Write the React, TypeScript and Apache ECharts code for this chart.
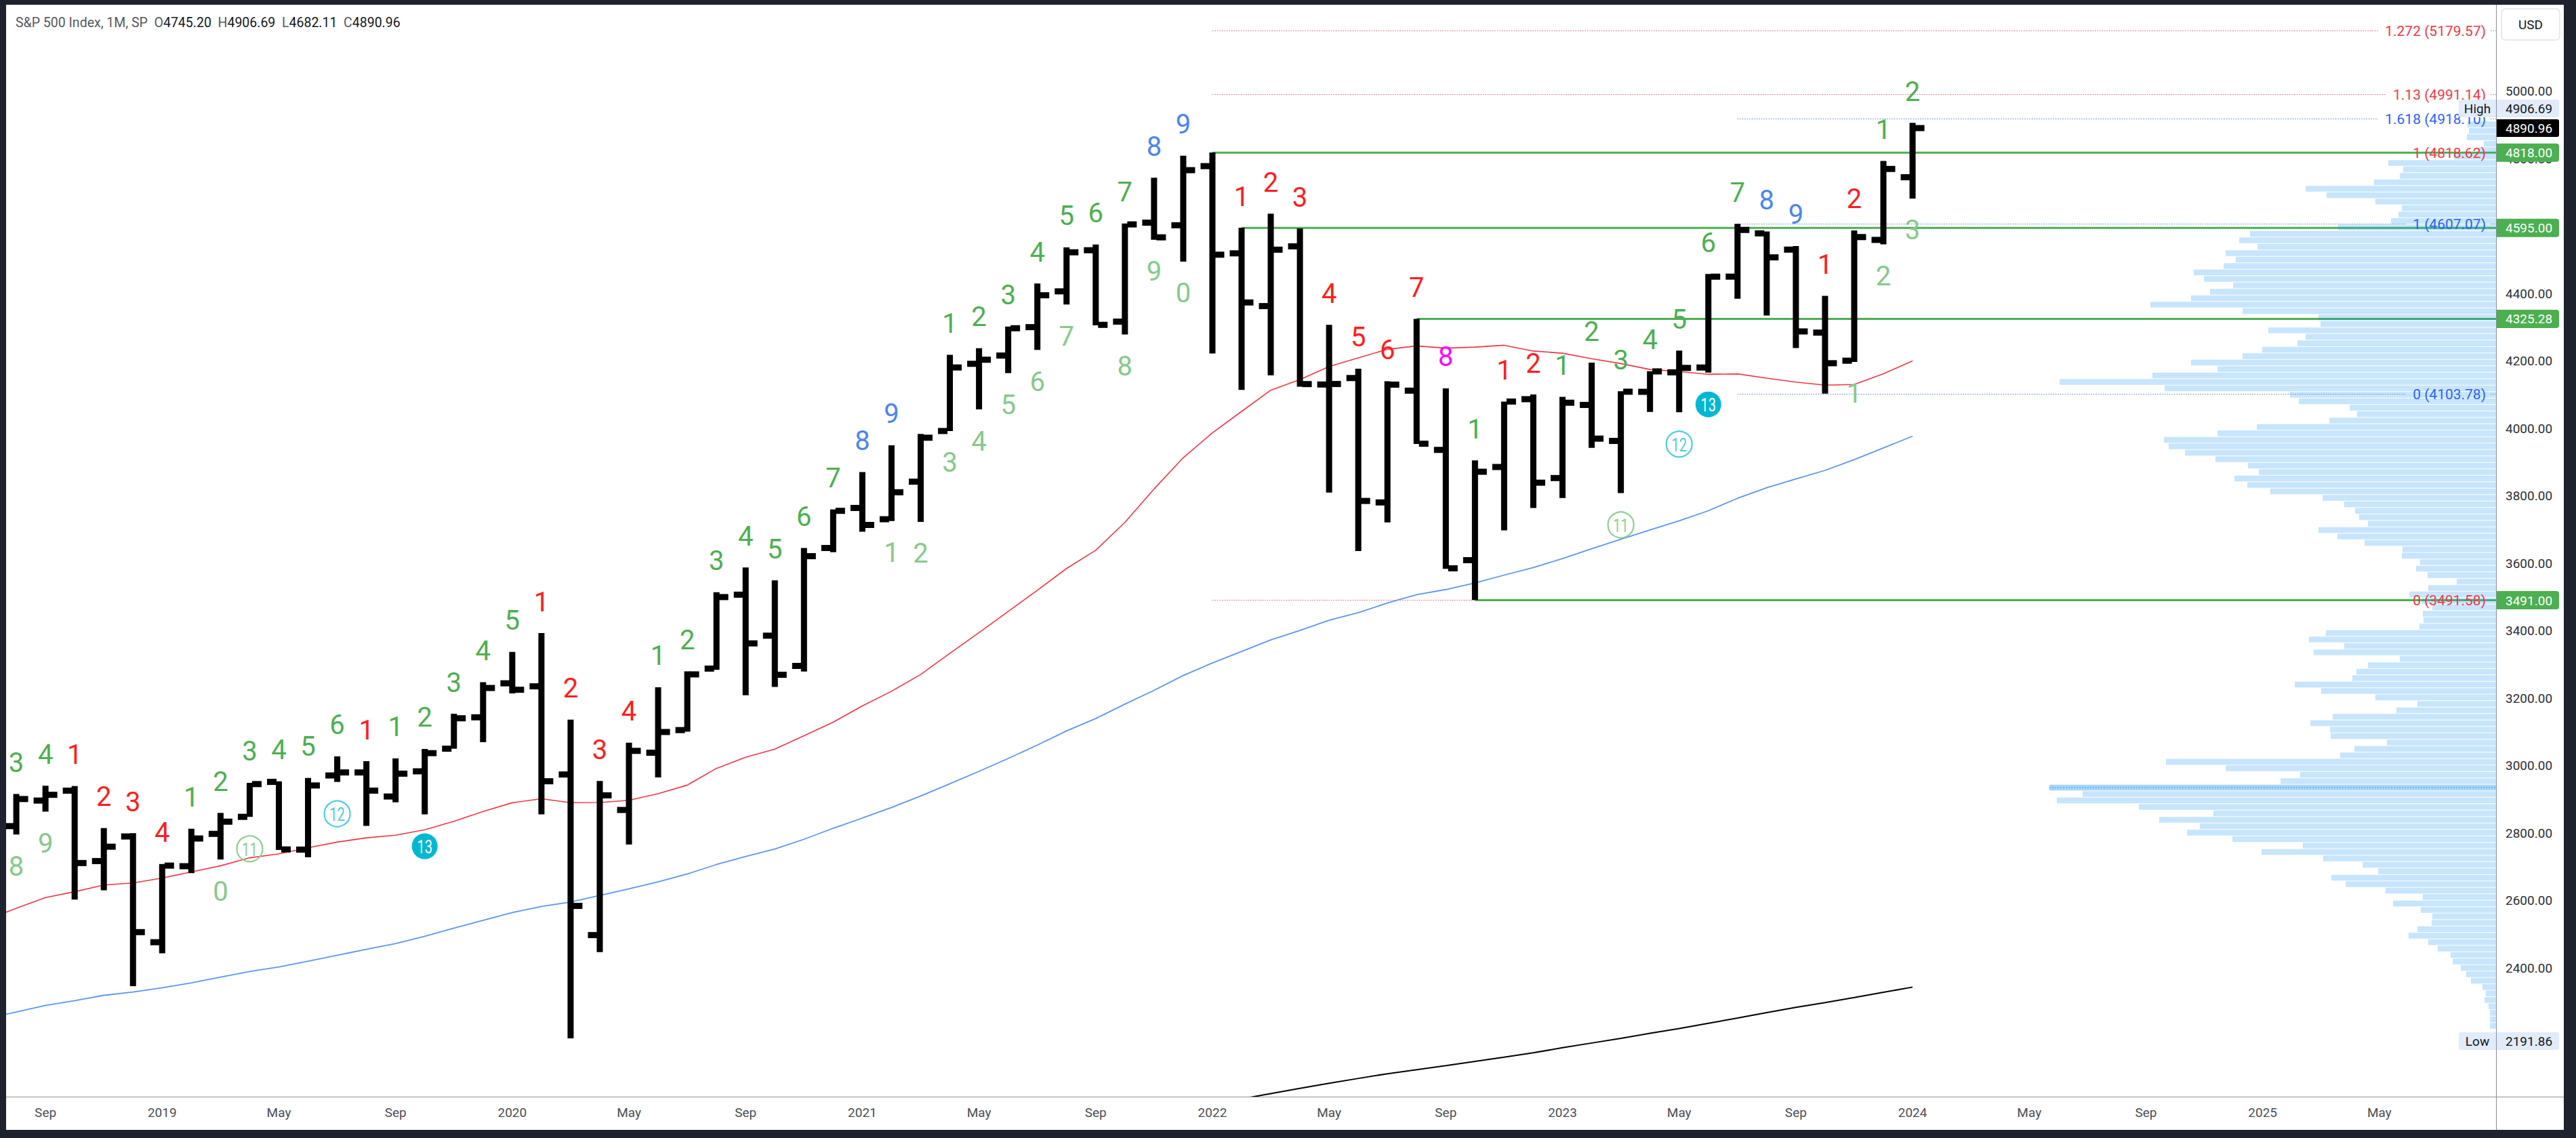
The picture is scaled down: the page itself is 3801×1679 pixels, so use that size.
import React, { useEffect, useRef } from 'react';
import * as echarts from 'echarts';

const FONT = 'Roboto, "Noto Sans", "DejaVu Sans", sans-serif';

// ---- time base: first bar is Aug 2018 (index 0) ----
const START_YEAR = 2018;
const START_MONTH = 7; // 0-based, August
const MONTH_NAMES = ['Jan', 'Feb', 'Mar', 'Apr', 'May', 'Jun', 'Jul', 'Aug', 'Sep', 'Oct', 'Nov', 'Dec'];

// ---- monthly OHLC, Aug 2018 .. Jan 2024 ----
const opens = [
  2821.17, 2896.96, 2926.29, 2717.58, 2790.5,
  2476.96, 2702.32, 2798.22, 2848.63, 2952.33, 2751.53, 2971.41, 2980.32, 2909.01, 2983.69, 3050.72, 3143.85,
  3244.67, 3235.66, 2974.28, 2498.08, 2869.09, 3038.78, 3105.92, 3288.26, 3507.44, 3385.87, 3296.2, 3645.87,
  3764.61, 3731.17, 3842.51, 3992.78, 4191.98, 4216.52, 4300.73, 4406.86, 4528.8, 4317.16, 4610.62, 4602.82,
  4778.14, 4519.57, 4363.14, 4540.32, 4130.61, 4149.78, 3781.0, 4112.38, 3936.73, 3609.78, 3886.04, 4087.14,
  3853.29, 4070.07, 3963.34, 4108.94, 4166.79, 4181.03, 4450.48, 4578.83, 4530.6, 4284.52, 4201.27, 4559.43,
  4745.2,
];
const highs = [
  2916.5, 2940.91, 2939.86, 2815.15, 2800.18,
  2708.95, 2813.49, 2860.31, 2949.52, 2954.13, 2964.15, 3027.98, 3013.59, 3021.99, 3050.1, 3154.26, 3247.93,
  3337.77, 3393.52, 3136.72, 2954.86, 3068.67, 3233.13, 3279.99, 3514.77, 3588.11, 3549.85, 3645.99, 3760.2,
  3870.9, 3950.43, 3983.87, 4218.78, 4238.04, 4302.43, 4429.97, 4537.36, 4545.85, 4608.08, 4743.83, 4808.93,
  4818.62, 4595.31, 4637.3, 4593.45, 4307.66, 4177.51, 4140.15, 4325.28, 4119.28, 3905.42, 4080.11, 4100.96,
  4094.21, 4195.44, 4110.75, 4170.06, 4231.1, 4458.48, 4607.07, 4584.62, 4541.25, 4393.57, 4587.64, 4793.3,
  4906.69,
];
const lows = [
  2796.34, 2864.12, 2603.54, 2631.09, 2346.58,
  2443.96, 2681.83, 2722.27, 2848.63, 2750.52, 2728.81, 2952.22, 2822.12, 2891.85, 2855.94, 3050.72, 3070.33,
  3214.64, 2855.84, 2191.86, 2447.49, 2766.64, 2965.66, 3101.17, 3284.53, 3209.45, 3233.94, 3279.74, 3633.4,
  3694.12, 3725.62, 3723.34, 3992.78, 4056.88, 4164.4, 4233.13, 4367.73, 4305.91, 4278.94, 4560.0, 4495.12,
  4222.62, 4114.65, 4157.87, 4124.28, 3810.32, 3636.87, 3721.56, 3954.53, 3584.13, 3491.58, 3698.15, 3764.49,
  3794.33, 3943.08, 3808.86, 4049.35, 4048.28, 4166.15, 4385.05, 4335.31, 4238.63, 4103.78, 4197.74, 4546.5,
  4682.11,
];
const closes = [
  2901.52, 2913.98, 2711.74, 2760.17, 2506.85,
  2704.1, 2784.49, 2834.4, 2945.83, 2752.06, 2941.76, 2980.38, 2926.46, 2976.74, 3037.56, 3140.98, 3230.78,
  3225.52, 2954.22, 2584.59, 2912.43, 3044.31, 3100.29, 3271.12, 3500.31, 3363.0, 3269.96, 3621.63, 3756.07,
  3714.24, 3811.15, 3972.89, 4181.17, 4204.11, 4297.5, 4395.26, 4522.68, 4307.54, 4605.38, 4567.0, 4766.18,
  4515.55, 4373.94, 4530.41, 4131.93, 4132.15, 3785.38, 4130.29, 3955.0, 3585.62, 3871.98, 4080.11, 3839.5,
  4076.6, 3970.15, 4109.31, 4169.48, 4179.83, 4450.38, 4588.96, 4507.66, 4288.05, 4193.8, 4567.8, 4769.83,
  4890.96,
];
// monthly closes before the first visible bar (Jun 2014 .. Jul 2018), feeding the moving averages
const historyCloses = [
  1960.23, 1930.67, 2003.37, 1972.29, 2018.05, 2067.56, 2058.9,
  1994.99, 2104.5, 2067.89, 2085.51, 2107.39, 2063.11, 2103.84, 1972.18, 1920.03, 2079.36, 2080.41, 2043.94,
  1940.24, 1932.23, 2059.74, 2065.3, 2096.95, 2098.86, 2173.6, 2170.95, 2168.27, 2126.15, 2198.81, 2238.83,
  2278.87, 2363.64, 2362.72, 2384.2, 2411.8, 2423.41, 2470.3, 2471.65, 2519.36, 2575.26, 2647.58, 2673.61,
  2823.81, 2713.83, 2640.87, 2648.05, 2705.27, 2718.37, 2816.29,
];
// long (200-month) average, bar index 41 .. 65
const SMA200_FIRST_INDEX = 41;
const sma200Values = [
  1997, 2012.5, 2028, 2043.5, 2058.8, 2073, 2087, 2099, 2111, 2123.6, 2136, 2149, 2164,
  2178, 2192, 2206.7, 2221, 2236.6, 2252, 2268.4, 2284, 2298, 2313, 2328.4, 2343.8,
];

// ---- TD sequential labels ----
const setupLabels: [number, string, string][] = [
  [0, '3', 'g'], [1, '4', 'g'], [2, '1', 'r'], [3, '2', 'r'], [4, '3', 'r'], [5, '4', 'r'],
  [6, '1', 'g'], [7, '2', 'g'], [8, '3', 'g'], [9, '4', 'g'], [10, '5', 'g'], [11, '6', 'g'],
  [12, '1', 'r'], [13, '1', 'g'], [14, '2', 'g'], [15, '3', 'g'], [16, '4', 'g'], [17, '5', 'g'],
  [18, '1', 'r'], [19, '2', 'r'], [20, '3', 'r'], [21, '4', 'r'],
  [22, '1', 'g'], [23, '2', 'g'], [24, '3', 'g'], [25, '4', 'g'], [26, '5', 'g'], [27, '6', 'g'], [28, '7', 'g'],
  [29, '8', 'b'], [30, '9', 'b'],
  [32, '1', 'g'], [33, '2', 'g'], [34, '3', 'g'], [35, '4', 'g'], [36, '5', 'g'], [37, '6', 'g'], [38, '7', 'g'],
  [39, '8', 'b'], [40, '9', 'b'],
  [42, '1', 'r'], [43, '2', 'r'], [44, '3', 'r'], [45, '4', 'r'], [46, '5', 'r'], [47, '6', 'r'], [48, '7', 'r'],
  [49, '8', 'm'], [50, '1', 'g'], [51, '1', 'r'], [52, '2', 'r'],
  [53, '1', 'g'], [54, '2', 'g'], [55, '3', 'g'], [56, '4', 'g'], [57, '5', 'g'], [58, '6', 'g'], [59, '7', 'g'],
  [60, '8', 'b'], [61, '9', 'b'], [62, '1', 'r'], [63, '2', 'r'], [64, '1', 'g'], [65, '2', 'g'],
];
const countdownLabels: [number, string, string][] = [
  [0, '8', 'lg'], [1, '9', 'lg'], [7, '0', 'lg'], [8, '11', 'c11'], [11, '12', 'c12'], [14, '13', 'c13'],
  [30, '1', 'lg'], [31, '2', 'lg'], [32, '3', 'lg'], [33, '4', 'lg'], [34, '5', 'lg'], [35, '6', 'lg'],
  [36, '7', 'lg'], [38, '8', 'lg'], [39, '9', 'lg'], [40, '0', 'lg'],
  [55, '11', 'c11'], [57, '12', 'c12'], [58, '13', 'c13'],
  [63, '1', 'lg'], [64, '2', 'lg'], [65, '3', 'lg'],
];

// ---- horizontal support / resistance levels ----
const levelPrices = [4818.0, 4595.0, 4325.28, 3491.0];
const levelStartIndex = [41, 42, 48, 50];

// ---- fibonacci extensions ----
const redFibRatios = [1.272, 1.13, 1, 0];
const redFibHighIndex = 41;
const redFibLowIndex = 50;
const blueFibRatios = [1.618, 1, 0];
const blueFibHighIndex = 59;
const blueFibLowIndex = 62;

// ---- visible range volume profile (rows from top, relative volume) ----
const VP_TOP = 4910.4;
const VP_ROW = 19.09;
const vpVolumes = [
  42, 40, 43, 18, 25, 62, 159, 137, 142, 180, 281, 250, 178, 139, 144, 155, 233, 363, 379, 352,
  399, 384, 402, 446, 431, 388, 422, 450, 510, 374, 262, 259, 336, 281, 293, 345, 374, 450, 411, 507,
  644, 489, 304, 291, 216, 205, 246, 353, 411, 490, 483, 459, 414, 366, 350, 386, 367, 333, 256, 224,
  208, 202, 189, 262, 234, 194, 138, 139, 112, 118, 101, 58, 100, 128, 110, 94, 108, 107, 113, 251,
  276, 224, 269, 142, 189, 206, 212, 297, 258, 178, 116, 147, 241, 274, 245, 244, 161, 209, 230, 487,
  399, 289, 318, 659, 610, 648, 527, 417, 497, 437, 456, 389, 285, 346, 255, 197, 174, 243, 222, 163,
  108, 152, 111, 94, 95, 116, 129, 100, 86, 67, 64, 52, 44, 37, 20, 15, 17, 11, 9, 9, 9,
];

// ---- axis ticks ----
const xTickIndices = [1, 5, 9, 13, 17, 21, 25, 29, 33, 37, 41, 45, 49, 53, 57, 61, 65, 69, 73, 77, 81];
const yTickValues = [2400, 2600, 2800, 3000, 3200, 3400, 3600, 3800, 4000, 4200, 4400, 4800, 5000];

// ---- layout ----
const W = 3774;
const H = 1660;
const AXIS_W = 100;
const AXIS_H = 49;
const PLOT_R = W - AXIS_W;
const X_MIN = -0.35;
const X_MAX = 85;
const Y_MIN = 2019;
const Y_MAX = 5256.7;
const VP_MAX_PX = 659;

const TD_COLORS: Record<string, string> = {
  g: '#4caf50', r: '#ff1d1d', b: '#4a86ec', m: '#ff00ff', lg: '#86c98a',
  c11: '#8fd092', c12: '#4fcde0', c13: '#00b8d4',
};
const RED_FIB = '#f23645';
const BLUE_FIB = '#2962ff';
const GREEN = '#4caf50';

function monthLabel(i: number) {
  const t = START_MONTH + i;
  const mo = ((t % 12) + 12) % 12;
  const yr = START_YEAR + Math.floor(t / 12);
  return mo === 0 ? String(yr) : MONTH_NAMES[mo];
}

function sma(period: number) {
  const all = historyCloses.concat(closes);
  const off = historyCloses.length;
  const out: number[][] = [];
  for (let i = -1; i < closes.length; i++) {
    const end = off + i;
    let s = 0;
    for (let k = end - period + 1; k <= end; k++) s += all[k];
    out.push([i, s / period]);
  }
  return out;
}

function measure(text: string, font: string) {
  const c = document.createElement('canvas').getContext('2d')!;
  c.font = font;
  return c.measureText(text).width;
}

function txt(x: number, y: number, text: string, fill: string, size: number, align: string, z: number, extra: any = {}) {
  return {
    type: 'text', x, y, z, silent: true,
    style: {
      text, fill, font: `${size}px ${FONT}`, fontSize: size, fontFamily: FONT,
      align, textAlign: align, verticalAlign: 'middle', textVerticalAlign: 'middle', ...extra,
    },
  };
}

export default function App() {
  const ref = useRef<HTMLDivElement>(null);

  useEffect(() => {
    document.body.style.margin = '0';
    const chart = echarts.init(ref.current!, undefined, { renderer: 'svg' });
    const vpMax = Math.max(...vpVolumes);
    const pocIndex = vpVolumes.indexOf(vpMax);

    const barData = opens.map((o, i) => [i, o, highs[i], lows[i], closes[i]]);

    chart.setOption({
      animation: false,
      backgroundColor: '#ffffff',
      grid: { left: 0, top: 0, right: AXIS_W, bottom: AXIS_H, containLabel: false },
      xAxis: {
        type: 'value', min: X_MIN, max: X_MAX,
        axisLine: { show: false }, axisTick: { show: false }, splitLine: { show: false },
        axisLabel: {
          customValues: xTickIndices,
          formatter: (v: number) => monthLabel(Math.round(v)),
          color: '#4a4d56', fontSize: 19, fontFamily: FONT, margin: 14,
        },
      },
      yAxis: {
        type: 'value', position: 'right', min: Y_MIN, max: Y_MAX,
        axisLine: { show: false }, axisTick: { show: false }, splitLine: { show: false },
        axisLabel: {
          customValues: yTickValues,
          formatter: (v: number) => v.toFixed(2),
          color: '#2a2e39', fontSize: 19, fontFamily: FONT, margin: 14,
        },
      },
      series: [
        {
          type: 'line', name: 'MA20', data: sma(20), showSymbol: false, z: 2,
          lineStyle: { color: '#f23645', width: 1.6 }, silent: true,
        },
        {
          type: 'line', name: 'MA50', data: sma(50), showSymbol: false, z: 2,
          lineStyle: { color: '#5b96f2', width: 1.8 }, silent: true,
        },
        {
          type: 'line', name: 'MA200', data: sma200Values.map((v, k) => [SMA200_FIRST_INDEX + k, v]),
          showSymbol: false, z: 2, lineStyle: { color: '#000000', width: 2 }, silent: true,
        },
        {
          type: 'custom', name: 'OHLC', z: 3, clip: true, silent: true,
          data: barData,
          encode: { x: 0, y: [1, 2, 3, 4] },
          renderItem: (_p: any, api: any) => {
            const m = api.value(0);
            const ph = api.coord([m, api.value(2)]);
            const yl = api.coord([m, api.value(3)])[1];
            const yo = api.coord([m, api.value(1)])[1];
            const yc = api.coord([m, api.value(4)])[1];
            const x = ph[0];
            const w = 9, t = 13, th = 9;
            return {
              type: 'group',
              children: [
                { type: 'rect', shape: { x: x - w / 2, y: ph[1], width: w, height: Math.max(1, yl - ph[1]) }, style: { fill: '#000' } },
                { type: 'rect', shape: { x: x - w / 2 - t, y: yo - th / 2, width: t + 1, height: th }, style: { fill: '#000' } },
                { type: 'rect', shape: { x: x + w / 2 - 1, y: yc - th / 2, width: t + 1, height: th }, style: { fill: '#000' } },
              ],
            };
          },
        },
        {
          type: 'custom', name: 'VolumeProfile', z: 4, clip: false, silent: true,
          data: vpVolumes.map((v, i) => [i, v]),
          encode: { x: 0, y: 1 },
          renderItem: (params: any, api: any) => {
            const i = api.value(0);
            const vol = api.value(1);
            const cs = params.coordSys;
            const right = cs.x + cs.width;
            const yTop = api.coord([0, VP_TOP - i * VP_ROW])[1];
            const yBot = api.coord([0, VP_TOP - (i + 1) * VP_ROW])[1];
            const w = (vol / vpMax) * VP_MAX_PX;
            const poc = i === pocIndex;
            const rect = {
              type: 'rect',
              shape: { x: right - w, y: yTop, width: w, height: yBot - yTop - 1 },
              style: { fill: poc ? 'rgba(33,150,243,0.4)' : 'rgba(33,150,243,0.25)' },
            };
            if (!poc) return rect;
            const ym = (yTop + yBot) / 2 - 0.5;
            return {
              type: 'group',
              children: [
                rect,
                { type: 'line', shape: { x1: right - w, y1: ym, x2: right, y2: ym }, style: { stroke: 'rgba(33,150,243,0.55)', lineWidth: 1.5, lineDash: [2, 2] } },
              ],
            };
          },
        },
        {
          type: 'custom', name: 'TDSetup', z: 5, clip: false, silent: true,
          data: setupLabels.map((l) => [l[0], highs[l[0]]]),
          encode: { x: 0, y: 1 },
          renderItem: (params: any, api: any) => {
            const lab = setupLabels[params.dataIndex];
            const p = api.coord([api.value(0), api.value(1)]);
            return {
              type: 'text', x: p[0], y: p[1] - 46,
              style: {
                text: lab[1], fill: TD_COLORS[lab[2]], fontSize: 40, fontFamily: FONT,
                align: 'center', verticalAlign: 'middle', textAlign: 'center', textVerticalAlign: 'middle',
              },
            };
          },
        },
        {
          type: 'custom', name: 'TDCountdown', z: 5, clip: false, silent: true,
          data: countdownLabels.map((l) => [l[0], lows[l[0]]]),
          encode: { x: 0, y: 1 },
          renderItem: (params: any, api: any) => {
            const lab = countdownLabels[params.dataIndex];
            const p = api.coord([api.value(0), api.value(1)]);
            const cx = p[0];
            const cy = p[1] + 47;
            const kind = lab[2];
            const col = TD_COLORS[kind];
            if (kind === 'lg') {
              return {
                type: 'text', x: cx, y: cy,
                style: {
                  text: lab[1], fill: col, fontSize: 40, fontFamily: FONT,
                  align: 'center', verticalAlign: 'middle', textAlign: 'center', textVerticalAlign: 'middle',
                },
              };
            }
            const filled = kind === 'c13';
            return {
              type: 'group',
              children: [
                {
                  type: 'circle', shape: { cx, cy, r: 19 },
                  style: filled ? { fill: col } : { fill: 'rgba(255,255,255,0)', stroke: col, lineWidth: 2.2 },
                },
                {
                  type: 'text', x: cx, y: cy + 1, scaleX: 0.72,
                  style: {
                    text: lab[1], fill: filled ? '#ffffff' : col, fontSize: 28, fontFamily: FONT,
                    align: 'center', verticalAlign: 'middle', textAlign: 'center', textVerticalAlign: 'middle',
                  },
                },
              ],
            };
          },
        },
      ],
    });

    const px = (m: number, v: number) => chart.convertToPixel({ gridIndex: 0 }, [m, v]) as number[];
    const yOf = (v: number) => px(0, v)[1];
    const g: any[] = [];

    // axis separators
    g.push({ type: 'line', z: 40, silent: true, shape: { x1: PLOT_R + 0.5, y1: 0, x2: PLOT_R + 0.5, y2: H }, style: { stroke: '#8c9099', lineWidth: 1 } });
    g.push({ type: 'line', z: 40, silent: true, shape: { x1: 0, y1: H - AXIS_H + 0.5, x2: W, y2: H - AXIS_H + 0.5 }, style: { stroke: '#8c9099', lineWidth: 1 } });

    // fibonacci levels
    const fibFont = `21px ${FONT}`;
    const addFib = (ratios: number[], hiIdx: number, loIdx: number, color: string) => {
      const hi = highs[hiIdx];
      const lo = lows[loIdx];
      const x0 = px(hiIdx, hi)[0];
      ratios.forEach((r) => {
        const level = lo + r * (hi - lo);
        const y = Math.round(yOf(level)) + 0.5;
        const label = `${r} (${level.toFixed(2)})`;
        const tw = measure(label, fibFont);
        const textRight = PLOT_R - 15;
        const textLeft = textRight - tw;
        g.push({ type: 'line', z: 1, silent: true, shape: { x1: x0, y1: y, x2: textLeft - 10, y2: y }, style: { stroke: color, lineWidth: 1, lineDash: [1.5, 2], opacity: 0.8 } });
        g.push({ type: 'line', z: 1, silent: true, shape: { x1: PLOT_R - 8, y1: y, x2: PLOT_R, y2: y }, style: { stroke: color, lineWidth: 1, lineDash: [1.5, 2], opacity: 0.8 } });
        g.push(txt(textRight, y, label, color, 21, 'right', 15));
      });
    };
    addFib(redFibRatios, redFibHighIndex, redFibLowIndex, RED_FIB);
    addFib(blueFibRatios, blueFibHighIndex, blueFibLowIndex, BLUE_FIB);

    // green horizontal levels with price tags
    levelPrices.forEach((lv, i) => {
      const x0 = px(levelStartIndex[i], lv)[0];
      const y = yOf(lv);
      g.push({ type: 'line', z: 1, silent: true, shape: { x1: x0, y1: y, x2: PLOT_R, y2: y }, style: { stroke: GREEN, lineWidth: 3 } });
      g.push({ type: 'rect', z: 30, silent: true, shape: { x: PLOT_R + 1, y: y - 13.5, width: 92, height: 27, r: [0, 4, 4, 0] }, style: { fill: GREEN } });
      g.push(txt(PLOT_R + 14, y + 0.5, lv.toFixed(2), '#ffffff', 19, 'left', 31));
    });

    // last price tag
    const last = closes[closes.length - 1];
    const yLast = yOf(last);
    g.push({ type: 'rect', z: 32, silent: true, shape: { x: PLOT_R + 1, y: yLast - 13, width: 92, height: 26, r: [0, 3, 3, 0] }, style: { fill: '#000000' } });
    g.push(txt(PLOT_R + 14, yLast + 0.5, last.toFixed(2), '#ffffff', 19, 'left', 33));

    // high / low tags
    const hiV = Math.max(...highs);
    const loV = Math.min(...lows);
    let yHi = yOf(hiV);
    if (Math.abs(yHi - yLast) < 27) yHi = yLast - 29;
    const yLo = yOf(loV) + 4;
    const tagBg = '#e1ebfa';
    [[yHi, 'High', hiV], [yLo, 'Low', loV]].forEach(([yy, name, val]: any) => {
      g.push({ type: 'rect', z: 32, silent: true, shape: { x: PLOT_R - 55, y: yy - 13, width: 55, height: 26, r: [3, 0, 0, 3] }, style: { fill: tagBg } });
      g.push(txt(PLOT_R - 27.5, yy + 0.5, name, '#131722', 19, 'center', 33));
      g.push({ type: 'rect', z: 32, silent: true, shape: { x: PLOT_R + 1, y: yy - 13, width: 92, height: 26, r: [0, 3, 3, 0] }, style: { fill: tagBg } });
      g.push(txt(PLOT_R + 14, yy + 0.5, val.toFixed(2), '#131722', 19, 'left', 33));
    });

    // currency box
    g.push({ type: 'rect', z: 30, silent: true, shape: { x: PLOT_R + 8, y: 6, width: 86, height: 46, r: 6 }, style: { fill: '#ffffff', stroke: '#e0e3eb', lineWidth: 1.5 } });
    g.push(txt(PLOT_R + 51, 29.5, 'USD', '#131722', 19, 'center', 31));

    // title / legend
    const o = opens[opens.length - 1], hh = highs[highs.length - 1], ll = lows[lows.length - 1];
    const TS = 19.5;
    g.push({
      type: 'text', x: 14, y: 26, z: 50, silent: true,
      style: {
        text: `{t|S&P 500 Index, 1M, SP}  {l|O}{v|${o.toFixed(2)}}  {l|H}{v|${hh.toFixed(2)}}  {l|L}{v|${ll.toFixed(2)}}  {l|C}{v|${last.toFixed(2)}}`,
        fontSize: TS, fontFamily: FONT, fill: '#131722',
        verticalAlign: 'middle', textVerticalAlign: 'middle', align: 'left', textAlign: 'left',
        rich: {
          t: { fill: '#555862', fontSize: TS, fontFamily: FONT },
          l: { fill: '#555862', fontSize: TS, fontFamily: FONT },
          v: { fill: '#131722', fontSize: TS, fontFamily: FONT },
        },
      },
    });

    chart.setOption({ graphic: g });

    return () => chart.dispose();
  }, []);

  return (
    <div style={{ width: 3801, height: 1679, background: '#1e222d', position: 'relative', overflow: 'hidden' }}>
      <div ref={ref} style={{ position: 'absolute', left: 9, top: 7, width: W, height: H, background: '#ffffff' }} />
    </div>
  );
}
